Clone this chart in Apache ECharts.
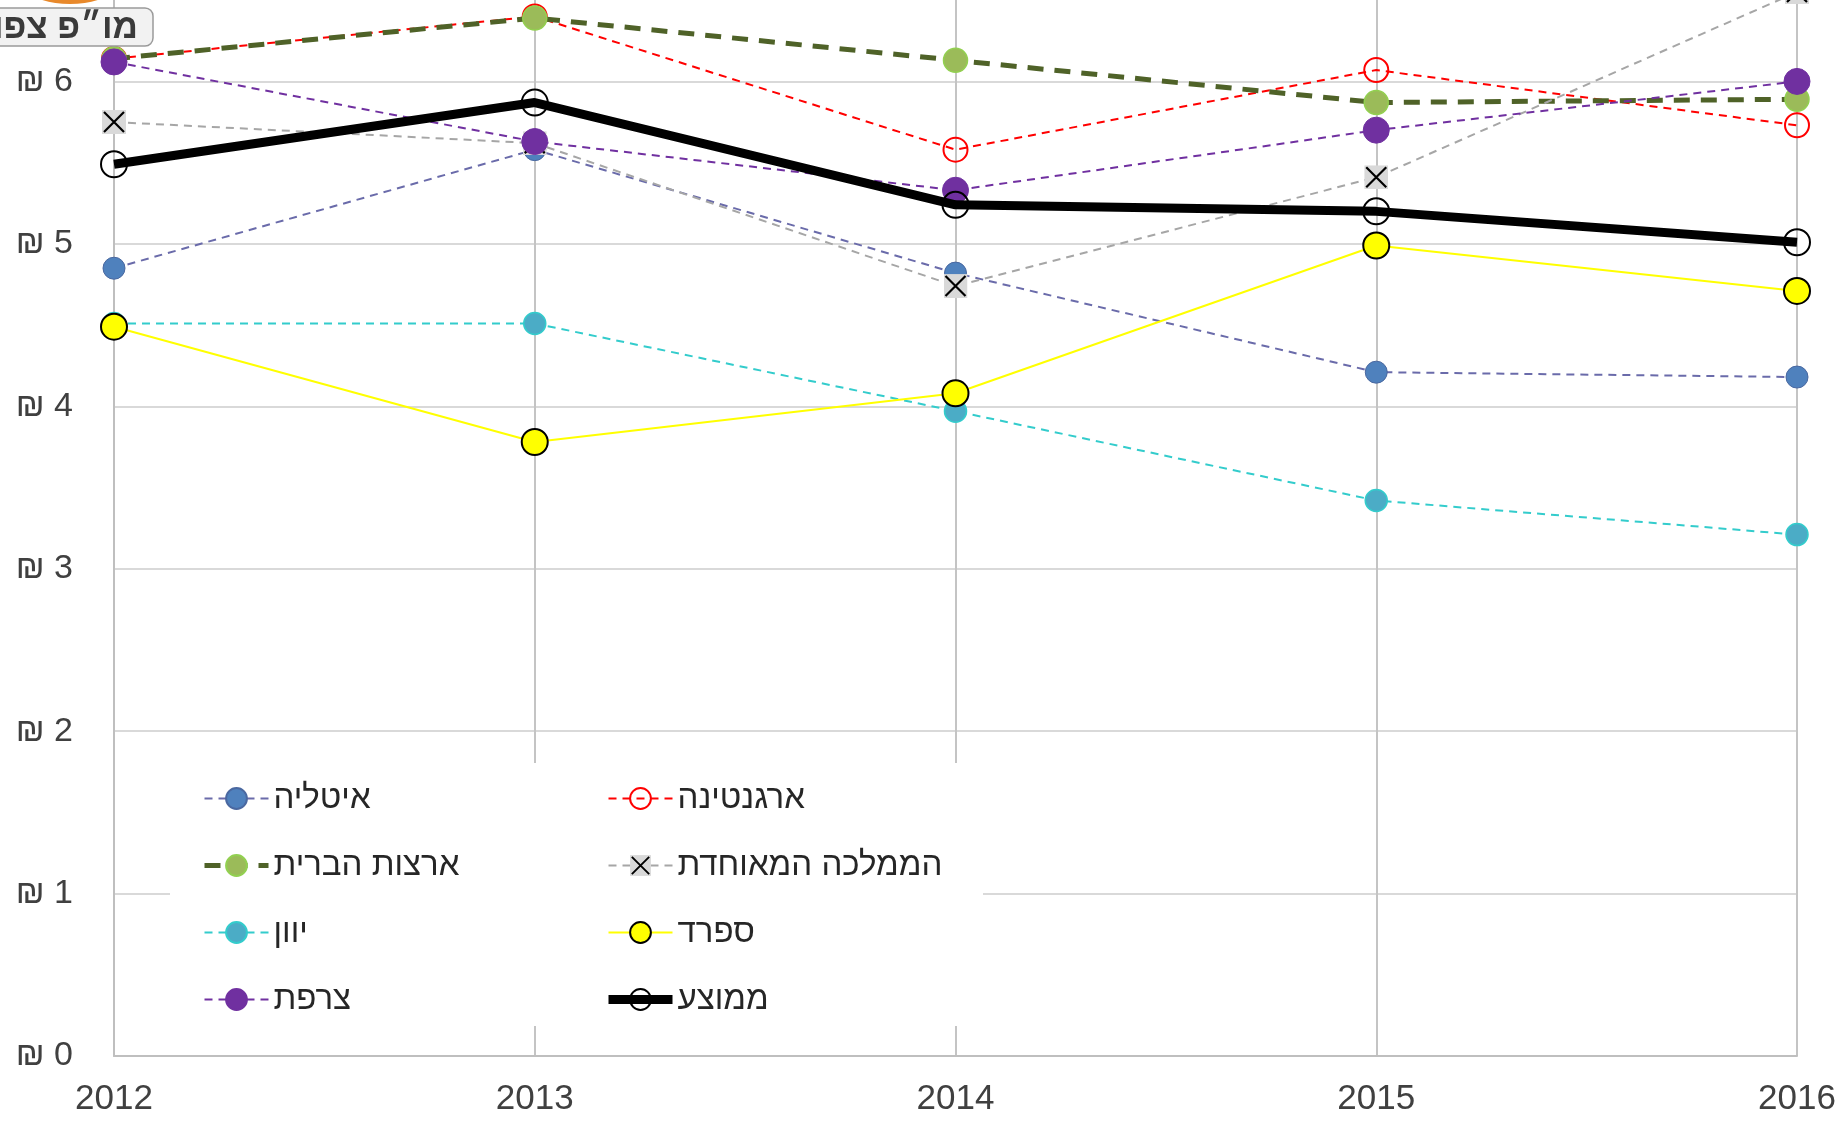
<!DOCTYPE html>
<html>
<head>
<meta charset="utf-8">
<script src="https://cdn.jsdelivr.net/npm/echarts@6/dist/echarts.min.js"></script>
<style>
  html, body { margin: 0; padding: 0; background: #fff; }
  #chart { width: 1845px; height: 1124px; }
</style>
</head>
<body>
<div id="chart"></div>
<script>
// data
const years = ['2012', '2013', '2014', '2015', '2016']
const italy = [4.85, 5.58, 4.82, 4.21, 4.18]
const argentina = [6.14, 6.40, 5.58, 6.07, 5.73]
const usa = [6.14, 6.39, 6.13, 5.87, 5.89]
const uk = [5.75, 5.62, 4.74, 5.41, 6.55]
const greece = [4.51, 4.51, 3.97, 3.42, 3.21]
const spain = [4.49, 3.78, 4.08, 4.99, 4.71]
const france = [6.12, 5.63, 5.33, 5.70, 6.00]
const average = [5.49, 5.87, 5.24, 5.20, 5.01]

const font = '"Liberation Sans", Arial, sans-serif'

const ukSymbol = 'image://data:image/svg+xml;utf8,' + encodeURIComponent(
  "<svg xmlns='http://www.w3.org/2000/svg' width='24' height='24'>" +
  "<rect width='24' height='24' fill='#d9d9d9'/>" +
  "<path d='M2 2L22 22M22 2L2 22' stroke='#000' stroke-width='2.2'/></svg>"
)

const mkSeries = (name, data, opt) => ({
  name,
  type: 'line',
  data,
  symbol: opt.symbol || 'circle',
  symbolSize: opt.size,
  itemStyle: opt.item,
  lineStyle: opt.line,
  emphasis: { disabled: true },
  z: opt.z
})

const series = [
  mkSeries('איטליה', italy, {
    size: 22, z: 2,
    item: { color: '#4F81BD', borderColor: '#4A68A0', borderWidth: 1 },
    line: { color: '#6A6BAA', width: 2, type: [8, 6] }
  }),
  mkSeries('ארגנטינה', argentina, {
    size: 24, z: 3,
    item: { color: 'rgba(255,255,255,0)', borderColor: '#FF0000', borderWidth: 2 },
    line: { color: '#FF0000', width: 2, type: [8, 6] }
  }),
  mkSeries('ארצות הברית', usa, {
    size: 24, z: 4,
    item: { color: '#9BBB59', borderColor: '#92D050', borderWidth: 1.5 },
    line: { color: '#4F6228', width: 5, type: [16, 11] }
  }),
  mkSeries('הממלכה המאוחדת', uk, {
    symbol: ukSymbol, size: 24, z: 5,
    item: { color: '#A6A6A6' },
    line: { color: '#A6A6A6', width: 2, type: [8, 6] }
  }),
  mkSeries('יוון', greece, {
    size: 22, z: 6,
    item: { color: '#4BACC6', borderColor: '#33CCCC', borderWidth: 1.5 },
    line: { color: '#33CCCC', width: 2, type: [8, 6] }
  }),
  mkSeries('ספרד', spain, {
    size: 26, z: 7,
    item: { color: '#FFFF00', borderColor: '#000', borderWidth: 2 },
    line: { color: '#FFFF00', width: 2 }
  }),
  mkSeries('צרפת', france, {
    size: 26, z: 8,
    item: { color: '#7030A0', borderColor: '#7030A0', borderWidth: 1 },
    line: { color: '#7030A0', width: 2, type: [8, 6] }
  }),
  mkSeries('ממוצע', average, {
    size: 26, z: 9,
    item: { color: 'rgba(255,255,255,0)', borderColor: '#000', borderWidth: 2 },
    line: { color: '#000', width: 9 }
  })
]

const legendBase = {
  orient: 'vertical',
  top: 782,
  padding: 0,
  itemWidth: 64,
  itemHeight: 26,
  itemGap: 34,
  itemTextGap: 18,
  selectedMode: false,
  textStyle: { fontSize: 33, color: '#262626', fontFamily: font }
}

const chart = echarts.init(document.getElementById('chart'))
chart.setOption({
  animation: false,
  backgroundColor: '#fff',
  grid: { left: 114, right: 48, top: -81, bottom: 68, outerBoundsMode: 'none', containLabel: false },
  xAxis: {
    type: 'category',
    data: years,
    boundaryGap: false,
    axisLine: { lineStyle: { color: '#BFBFBF', width: 2 } },
    axisTick: { show: false },
    axisLabel: { fontSize: 35, color: '#404040', fontFamily: font, margin: 26 },
    splitLine: { show: true, lineStyle: { color: '#C4C4C4', width: 2 } }
  },
  yAxis: {
    type: 'value',
    min: 0,
    max: 7,
    interval: 1,
    axisLine: { show: true, lineStyle: { color: '#BFBFBF', width: 2 } },
    axisTick: { show: false },
    axisLabel: {
      fontSize: 34, color: '#404040', fontFamily: font, margin: 41,
      formatter: v => '₪ ' + v
    },
    splitLine: { lineStyle: { color: '#D9D9D9', width: 2 } }
  },
  legend: [
    Object.assign({}, legendBase, {
      left: 202,
      data: ['איטליה', { name: 'ארצות הברית', lineStyle: { width: 5 } }, 'יוון', 'צרפת']
    }),
    Object.assign({}, legendBase, {
      left: 604,
      data: ['ארגנטינה', 'הממלכה המאוחדת', 'ספרד', { name: 'ממוצע', lineStyle: { width: 9 } }]
    })
  ],
  graphic: [
    {
      type: 'rect', z: 1, silent: true,
      shape: { x: 170, y: 763, width: 813, height: 263 },
      style: { fill: '#fff' }
    },
    // logo, cut off at the top-left corner
    {
      type: 'ellipse', z: 10, silent: true,
      shape: { cx: 70, cy: -22, rx: 52, ry: 26 },
      style: { fill: '#E8892B' }
    },
    {
      type: 'rect', z: 11, silent: true,
      shape: { x: -10, y: 8, width: 163, height: 38, r: 8 },
      style: { fill: '#F2F2F2', stroke: '#9A9A9A', lineWidth: 1.5 }
    },
    {
      type: 'text', z: 12, silent: true,
      style: {
        x: 138, y: 28, text: 'מו״פ צפון', align: 'right', verticalAlign: 'middle',
        font: 'bold 35px ' + font, fill: '#3A3A3A'
      }
    }
  ],
  series
})
</script>
</body>
</html>
